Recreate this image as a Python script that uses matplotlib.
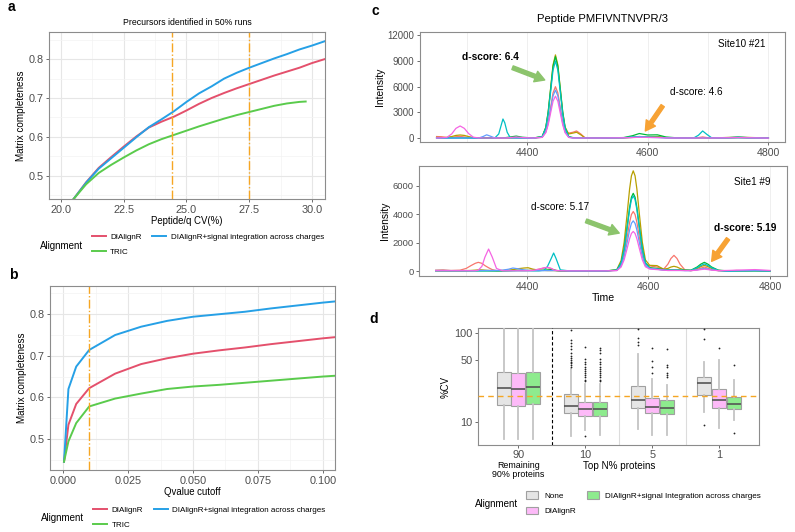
import matplotlib
matplotlib.use("Agg")
import matplotlib.pyplot as plt
from matplotlib.lines import Line2D
from matplotlib.patches import Patch
import matplotlib.transforms as mtransforms

plt.rcParams['font.family'] = ['Liberation Sans', 'DejaVu Sans']

# ---------- data ----------

# a: matrix completeness vs peptide/q CV
cv_x = [20.5, 21.0, 21.5, 22.0, 22.5, 23.0, 23.5, 24.0, 24.5, 25.0, 25.5,
        26.0, 26.5, 27.0, 27.5, 28.0, 28.5, 29.0, 29.5, 30.0, 30.5]
cv_dialignr = [0.44, 0.483, 0.52, 0.548, 0.575, 0.601, 0.624, 0.639, 0.652, 0.668, 0.685,
               0.70, 0.713, 0.725, 0.736, 0.747, 0.758, 0.768, 0.778, 0.79, 0.80]
cv_signal = [0.44, 0.482, 0.518, 0.545, 0.572, 0.599, 0.625, 0.645, 0.666, 0.69, 0.712,
             0.73, 0.75, 0.765, 0.778, 0.79, 0.802, 0.813, 0.825, 0.835, 0.846]
cv_x_tric = [20.5, 21.0, 21.5, 22.0, 22.5, 23.0, 23.5, 24.0, 24.5, 25.0, 25.5,
             26.0, 26.5, 27.0, 27.5, 28.0, 28.5, 29.0, 29.5, 29.75]
cv_tric = [0.44, 0.478, 0.507, 0.528, 0.547, 0.565, 0.581, 0.594, 0.605, 0.616, 0.627,
           0.637, 0.647, 0.656, 0.664, 0.672, 0.68, 0.686, 0.69, 0.691]
cv_marks = [24.44, 27.49]

# b: matrix completeness vs q-value cutoff
q_x = [0.0003, 0.002, 0.005, 0.01, 0.02, 0.03, 0.04, 0.05, 0.06, 0.07, 0.08, 0.09, 0.1, 0.105]
q_dialignr = [0.445, 0.534, 0.584, 0.622, 0.657, 0.68, 0.694, 0.705, 0.713, 0.72, 0.728, 0.735, 0.742, 0.745]
q_signal = [0.445, 0.62, 0.674, 0.714, 0.75, 0.77, 0.784, 0.794, 0.80, 0.806, 0.814, 0.821, 0.828, 0.831]
q_tric = [0.445, 0.494, 0.538, 0.578, 0.597, 0.609, 0.62, 0.626, 0.63, 0.635, 0.64, 0.645, 0.65, 0.652]
q_mark = 0.01

# c: chromatograms (6 transitions), top = Site10 #21, bottom = Site1 #9
trace_colors = ['#F8766D', '#B79F00', '#00BA38', '#00BFC4', '#619CFF', '#F564E3']

top_time = [4250, 4258, 4267, 4275, 4282, 4289, 4296, 4303, 4311,
            4320, 4327, 4333, 4339, 4346,
            4353, 4357, 4360, 4363, 4367, 4372,
            4382, 4392, 4410,
            4425, 4431, 4435, 4439, 4443, 4447, 4451, 4455, 4459, 4463, 4469,
            4476, 4482, 4489, 4496,
            4520, 4560, 4575, 4586, 4600, 4616, 4630, 4650,
            4676, 4684, 4691, 4698, 4706,
            4735, 4750, 4765, 4800]
top_red = [200, 180, 80, 100, 180, 220, 150, 80, 30,
           20, 30, 40, 30, 20,
           20, 20, 20, 20, 20, 30,
           40, 30, 20,
           120, 780, 1920, 3600, 5280, 6000, 5280, 3600, 1920, 800, 600,
           700, 850, 500, 50,
           30, 60, 120, 200, 150, 200, 80, 30,
           30, 80, 150, 80, 30,
           60, 100, 60, 20]
top_yellow = [100, 80, 100, 200, 330, 380, 330, 200, 80,
              30, 40, 60, 40, 30,
              30, 30, 30, 30, 30, 40,
              60, 40, 20,
              190, 1260, 3100, 5820, 8540, 9700, 8540, 5820, 3100, 1300, 500,
              600, 700, 400, 50,
              30, 50, 100, 180, 150, 200, 80, 30,
              30, 50, 80, 50, 30,
              100, 150, 100, 30]
top_green = [30, 30, 30, 30, 40, 50, 40, 30, 30,
             30, 30, 30, 30, 30,
             30, 30, 40, 60, 100, 150,
             250, 120, 30,
             190, 1240, 3040, 5700, 8360, 9500, 8360, 5700, 3040, 1240, 190,
             80, 60, 40, 30,
             30, 80, 300, 550, 380, 400, 150, 40,
             30, 30, 40, 30, 30,
             40, 60, 40, 20]
top_cyan = [20, 20, 20, 20, 20, 20, 20, 20, 20,
            20, 20, 20, 20, 0,
            500, 1500, 2240, 1800, 700, 80,
            40, 20, 20,
            180, 1170, 2880, 5400, 7920, 9000, 7920, 5400, 2880, 1170, 180,
            40, 40, 30, 30,
            20, 60, 150, 200, 150, 120, 60, 20,
            30, 350, 850, 450, 50,
            80, 150, 80, 20]
top_blue = [30, 30, 30, 30, 30, 30, 30, 30, 30,
            30, 200, 400, 250, 50,
            30, 30, 30, 30, 30, 30,
            30, 30, 20,
            110, 730, 1790, 3360, 4930, 5600, 4930, 3360, 1790, 730, 110,
            30, 30, 30, 30,
            30, 60, 100, 150, 100, 80, 40, 30,
            30, 30, 40, 30, 30,
            40, 60, 40, 20]
top_magenta = [30, 50, 100, 500, 1150, 1430, 1150, 550, 120,
               40, 30, 30, 30, 30,
               30, 30, 30, 30, 40, 80,
               150, 80, 30,
               100, 640, 1570, 2940, 4310, 4900, 4310, 2940, 1570, 640, 100,
               30, 30, 30, 30,
               30, 50, 80, 120, 100, 80, 40, 30,
               30, 30, 40, 30, 30,
               60, 80, 60, 20]

bot_time = [4250, 4262, 4275, 4290, 4300,
            4308, 4315, 4320, 4326, 4331, 4337, 4343, 4350,
            4360, 4370, 4377, 4385, 4395, 4402, 4410,
            4420, 4428, 4434, 4440, 4444, 4448, 4455,
            4470, 4500, 4530,
            4548, 4555, 4560, 4565, 4569, 4572, 4575, 4578, 4581, 4585, 4590, 4595, 4602,
            4614,
            4625, 4632, 4637, 4642, 4647, 4652, 4660,
            4670, 4680, 4686, 4692, 4698, 4704, 4715,
            4730, 4745, 4760, 4775, 4785, 4800]
bot_red = [80, 100, 60, 80, 200,
           400, 560, 630, 560, 400, 250, 120, 50,
           40, 50, 60, 60, 50, 60, 80,
           150, 220, 250, 200, 120, 60, 30,
           20, 20, 20,
           70, 450, 1200, 2410, 3440, 3990, 4200, 3990, 3440, 2410, 1200, 500, 380,
           300,
           150, 500, 900, 1120, 900, 500, 100,
           40, 120, 220, 300, 220, 120, 40,
           30, 60, 40, 60, 40, 30]
bot_yellow = [50, 50, 40, 40, 50,
              60, 80, 100, 100, 80, 60, 50, 40,
              60, 80, 120, 180, 230, 250, 150,
              80, 60, 50, 50, 50, 40, 30,
              20, 20, 20,
              120, 760, 2030, 4050, 5780, 6710, 7060, 6710, 5780, 4050, 2030, 800, 420,
              400,
              150, 200, 300, 350, 300, 200, 80,
              60, 200, 330, 420, 330, 200, 60,
              30, 30, 40, 50, 40, 30]
bot_green = [30, 30, 30, 30, 30,
             30, 30, 30, 30, 30, 30, 30, 30,
             30, 40, 50, 60, 60, 60, 50,
             50, 80, 100, 120, 100, 60, 30,
             20, 20, 20,
             90, 590, 1570, 3150, 4490, 5210, 5480, 5210, 4490, 3150, 1570, 600, 260,
             200,
             120, 100, 100, 100, 100, 100, 80,
             80, 300, 500, 630, 500, 300, 80,
             30, 30, 30, 30, 30, 20]
bot_cyan = [40, 40, 40, 40, 40,
            40, 40, 40, 40, 40, 40, 40, 40,
            40, 40, 40, 40, 40, 40, 40,
            40, 60, 350, 900, 1285, 900, 100,
            30, 30, 30,
            90, 570, 1520, 3040, 4340, 5040, 5300, 5040, 4340, 3040, 1520, 580, 210,
            150,
            100, 80, 80, 80, 80, 80, 60,
            60, 250, 400, 520, 400, 250, 60,
            0, 20, 30, 40, 30, 20]
bot_blue = [60, 60, 50, 50, 50,
            50, 50, 50, 60, 60, 60, 60, 60,
            80, 150, 230, 180, 100, 60, 50,
            50, 50, 50, 50, 50, 50, 40,
            30, 30, 30,
            60, 380, 1020, 2030, 2900, 3370, 3545, 3370, 2900, 2030, 1020, 400, 200,
            150,
            80, 60, 60, 60, 60, 60, 50,
            50, 100, 160, 200, 160, 100, 50,
            40, 50, 50, 60, 50, 40]
bot_magenta = [40, 40, 40, 40, 40,
               40, 40, 80, 350, 1000, 1565, 1000, 200,
               40, 40, 40, 40, 40, 40, 60,
               150, 250, 280, 200, 100, 60, 40,
               30, 30, 30,
               50, 300, 800, 1610, 2290, 2660, 2800, 2660, 2290, 1610, 800, 320, 160,
               120,
               80, 60, 60, 60, 60, 60, 50,
               50, 80, 120, 150, 120, 80, 50,
               60, 80, 100, 120, 100, 60]

# d: %CV boxplots
cv_groups = ['90', '10', '5', '1']
box_labels = ['None', 'DIAlignR', 'DIAlignR+signal Integration across charges']
box_colors = ['#E5E5E5', '#FDBAF8', '#8EEB8E']
none_q1 = [15.6, 12.6, 14.4, 20.1]
none_med = [24.3, 15.1, 17.8, 27.4]
none_q3 = [36.5, 20.7, 25.4, 32.5]
none_lo = [6.5, 7.1, 8.4, 13.2]
none_hi = [150, 40, 58, 48]
none_out = [[], [110, 84, 78, 72, 66, 60, 56, 53, 50, 48, 46, 44, 42], [113, 88, 80, 74], [113, 86, 9.3]]
dia_q1 = [15.4, 11.9, 12.6, 14.4]
dia_med = [23.9, 14.1, 15.0, 17.7]
dia_q3 = [35.6, 16.9, 18.7, 23.7]
dia_lo = [6.5, 8.2, 7.2, 8.6]
dia_hi = [150, 27, 31, 50]
dia_out = [[], [70, 52, 48, 45, 42, 40, 38, 36, 34, 32, 30, 29, 7.0], [69, 49, 42, 36], [69]]
sig_q1 = [16.1, 11.8, 12.3, 14.0]
sig_med = [24.7, 14.1, 14.5, 16.2]
sig_q3 = [37.1, 16.9, 17.8, 19.1]
sig_lo = [6.5, 7.2, 7.2, 10.6]
sig_hi = [150, 27, 26, 30]
sig_out = [[], [68, 65, 60, 52, 48, 45, 42, 40, 38, 36, 34, 32, 30, 29], [67, 44, 42, 36, 34, 32], [44, 7.5]]
cv_threshold = 20

# ---------- figure ----------
W, H = 795, 532
fig = plt.figure(figsize=(W / 100, H / 100), dpi=100)

RED = '#E4506C'
BLUE = '#26A0E6'
GREEN = '#5ACB4C'
ORANGE = '#F6A623'
TICKC = '#4D4D4D'
BORDER = '#8C8C8C'


def px_axes(x0, y0, x1, y1):
    return fig.add_axes([x0 / W, 1 - y1 / H, (x1 - x0) / W, (y1 - y0) / H])


def ftext(x, y, s, **kw):
    fig.text(x / W, 1 - y / H, s, **kw)


def style(ax, size=7.8):
    for sp in ax.spines.values():
        sp.set_color(BORDER)
        sp.set_linewidth(0.8)
    ax.tick_params(length=2.5, width=0.6, color='#555555', labelcolor=TICKC,
                   labelsize=size, pad=1.5)


def completeness_grid(ax, xmajor, ymajor):
    ax.set_xticks(xmajor)
    ax.set_yticks(ymajor)
    step = xmajor[1] - xmajor[0]
    ax.set_xticks([v + step / 2 for v in [xmajor[0] - step] + list(xmajor)], minor=True)
    ax.set_yticks([v + 0.05 for v in [ymajor[0] - 0.1] + list(ymajor)], minor=True)
    ax.tick_params(which='minor', length=0)
    ax.grid(which='major', color='#E6E6E6', lw=0.8)
    ax.grid(which='minor', color='#F3F3F3', lw=0.5)
    ax.set_axisbelow(True)


# ----- panel a
ax_a = px_axes(49, 32, 325, 199)
style(ax_a)
completeness_grid(ax_a, [20.0, 22.5, 25.0, 27.5, 30.0], [0.5, 0.6, 0.7, 0.8])
ax_a.set_xticklabels(['20.0', '22.5', '25.0', '27.5', '30.0'])
ax_a.plot(cv_x, cv_dialignr, color=RED, lw=1.4)
ax_a.plot(cv_x, cv_signal, color=BLUE, lw=1.4)
ax_a.plot(cv_x_tric, cv_tric, color=GREEN, lw=1.4)
for m in cv_marks:
    ax_a.axvline(m, color=ORANGE, lw=1.0, ls='-.')
ax_a.set_xlim(19.52, 30.52)
ax_a.set_ylim(0.44, 0.87)
ax_a.set_title('Precursors identified in 50% runs', fontsize=6.3, pad=5)
ax_a.set_xlabel('Peptide/q CV(%)', fontsize=6.9, labelpad=1)
ax_a.set_ylabel('Matrix completeness', fontsize=7.1, labelpad=2)

# ----- panel b
ax_b = px_axes(50, 286, 335, 470)
style(ax_b)
completeness_grid(ax_b, [0.0, 0.025, 0.05, 0.075, 0.1], [0.5, 0.6, 0.7, 0.8])
ax_b.set_xticklabels(['0.000', '0.025', '0.050', '0.075', '0.100'])
ax_b.plot(q_x, q_dialignr, color=RED, lw=1.4)
ax_b.plot(q_x, q_signal, color=BLUE, lw=1.4)
ax_b.plot(q_x, q_tric, color=GREEN, lw=1.4)
ax_b.axvline(q_mark, color=ORANGE, lw=1.0, ls='-.')
ax_b.set_xlim(-0.0051, 0.1047)
ax_b.set_ylim(0.425, 0.868)
ax_b.set_xlabel('Qvalue cutoff', fontsize=6.9, labelpad=1)
ax_b.set_ylabel('Matrix completeness', fontsize=7.1, labelpad=2)

# legends a and b
line_handles = [Line2D([], [], color=RED, lw=1.4), Line2D([], [], color=GREEN, lw=1.4),
                Line2D([], [], color=BLUE, lw=1.4)]
line_labels = ['DIAlignR', 'TRIC', 'DIAlignR+signal integration across charges']
for lx, ly, tx, ty in [(91.7, 244.8, 40, 245.7), (93.3, 517.5, 40.7, 518.3)]:
    fig.legend(line_handles, line_labels, loc='center left',
               bbox_to_anchor=(lx / W, 1 - ly / H), ncol=2, frameon=False,
               fontsize=5.8, handlelength=1.75, handletextpad=0.55,
               columnspacing=1.3, labelspacing=0.95, borderpad=0, borderaxespad=0)
    ftext(tx, ty, 'Alignment', fontsize=7.0, va='center', ha='left')

# ----- panel c
def chrom_axes(ax, times, traces, ylim, yticks, ysize):
    style(ax)
    for vals, col in zip(traces, trace_colors):
        ax.plot(times, vals, color=col, lw=0.9, solid_joinstyle='round')
    ax.set_xlim(4222.5, 4827.5)
    ax.set_ylim(*ylim)
    ax.set_xticks([4400, 4600, 4800])
    ax.set_xticks([4300, 4500, 4700], minor=True)
    ax.set_yticks(yticks)
    ax.tick_params(which='minor', length=0)
    ax.tick_params(axis='x', labelsize=7.6)
    ax.tick_params(axis='y', labelsize=ysize)
    ax.grid(axis='x', which='both', color='#EDEDED', lw=0.6)
    ax.set_axisbelow(True)
    ax.set_ylabel('Intensity', fontsize=7.4, labelpad=2)


def arrow(ax, tail, tip, color):
    ax.annotate('', xy=tip, xytext=tail,
                arrowprops=dict(arrowstyle='simple,head_length=0.7,head_width=0.8,tail_width=0.28',
                                color=color, shrinkA=0, shrinkB=0, mutation_scale=10))


ax_c1 = px_axes(420, 31.7, 785, 142.3)
chrom_axes(ax_c1, top_time,
           [top_red, top_yellow, top_green, top_cyan, top_blue, top_magenta],
           (-470, 12400), [0, 3000, 6000, 9000, 12000], 6.9)
ax_c1.set_title('Peptide PMFIVNTNVPR/3', fontsize=8.1, pad=7)
ax_c1.text(4291.6, 9490, 'd-score: 6.4', fontsize=7.3, fontweight='bold', va='center')
ax_c1.text(4637, 5420, 'd-score: 4.6', fontsize=7.2, va='center')
ax_c1.text(4795.7, 10932, 'Site10 #21', fontsize=7.1, va='center', ha='right')
arrow(ax_c1, (4375.9, 8211), (4429.3, 6780), '#8CC46C')
arrow(ax_c1, (4624.8, 3791), (4596, 849), '#F7A234')

ax_c2 = px_axes(419, 166, 786.7, 276)
chrom_axes(ax_c2, bot_time,
           [bot_red, bot_yellow, bot_green, bot_cyan, bot_blue, bot_magenta],
           (-330, 7400), [0, 2000, 4000, 6000], 6.8)
ax_c2.set_xlabel('Time', fontsize=7.6, labelpad=1)
ax_c2.text(4407, 4544, 'd-score: 5.17', fontsize=7.2, va='center')
ax_c2.text(4707.7, 3034, 'd-score: 5.19', fontsize=7.3, fontweight='bold', va='center')
ax_c2.text(4800.6, 6291, 'Site1 #9', fontsize=7.1, va='center', ha='right')
arrow(ax_c2, (4497.4, 3544), (4552, 2684), '#8CC46C')
arrow(ax_c2, (4731, 2286), (4704, 699), '#F7A234')

# ----- panel d
ax_d = px_axes(478.3, 328.3, 759.3, 445)
style(ax_d, 7.9)
ax_d.tick_params(axis='x', pad=1)
ax_d.set_yscale('log')
series = [
    (none_q1, none_med, none_q3, none_lo, none_hi, none_out),
    (dia_q1, dia_med, dia_q3, dia_lo, dia_hi, dia_out),
    (sig_q1, sig_med, sig_q3, sig_lo, sig_hi, sig_out),
]
offsets = [-0.22, 0.0, 0.22]
for (q1, med, q3, lo, hi, out), off, col in zip(series, offsets, box_colors):
    stats = [dict(q1=q1[i], med=med[i], q3=q3[i], whislo=lo[i], whishi=hi[i],
                  fliers=out[i]) for i in range(len(cv_groups))]
    pos = [i + 1 + off for i in range(len(cv_groups))]
    ax_d.bxp(stats, positions=pos, widths=0.21, patch_artist=True, showcaps=False,
             boxprops=dict(facecolor=col, edgecolor='#A0A0A0', lw=0.8),
             whiskerprops=dict(color='#C4C4C4', lw=1.3),
             medianprops=dict(color='#555555', lw=1.2),
             flierprops=dict(marker='o', markersize=1.3, markerfacecolor='#222222',
                             markeredgecolor='none'),
             manage_ticks=False, zorder=3)
ax_d.axvline(1.5, color='black', lw=0.8, ls=(0, (3, 2)), zorder=4)
ax_d.axvline(2.5, color='#DCDCDC', lw=0.8, zorder=1)
ax_d.axvline(3.5, color='#DCDCDC', lw=0.8, zorder=1)
ax_d.axhline(cv_threshold, color='#F5A623', lw=1.0, ls=(0, (4, 3)), zorder=5)
ax_d.set_xlim(0.4, 4.6)
ax_d.set_ylim(5.56, 113.8)
ax_d.set_xticks(range(1, len(cv_groups) + 1))
ax_d.set_xticklabels(cv_groups)
ax_d.set_yticks([10, 50, 100])
ax_d.set_yticklabels(['10', '50', '100'])
ax_d.minorticks_off()
ax_d.set_ylabel('%CV', fontsize=6.9, labelpad=3)
ax_d.set_xlabel('Top N% proteins', fontsize=7.1, labelpad=1)
trans = mtransforms.blended_transform_factory(ax_d.transData, ax_d.transAxes)
ax_d.text(1, -0.135, 'Remaining\n90% proteins', transform=trans, ha='center', va='top',
          fontsize=6.4, linespacing=1.05)

patch_handles = [Patch(facecolor=c, edgecolor='#A0A0A0', lw=0.8) for c in box_colors]
fig.legend(patch_handles, box_labels, loc='center left',
           bbox_to_anchor=(526 / W, 1 - 503.3 / H), ncol=2, frameon=False,
           fontsize=5.9, handlelength=1.45, handleheight=1.05, handletextpad=0.8,
           columnspacing=1.3, labelspacing=0.85, borderpad=0, borderaxespad=0)
ftext(475, 504, 'Alignment', fontsize=7.0, va='center', ha='left')

# panel letters
for x, y, s in [(11, 7.3, 'a'), (13.3, 275, 'b'), (375, 10.7, 'c'), (373.3, 319.3, 'd')]:
    ftext(x, y, s, fontsize=10, fontweight='bold', ha='center', va='center')

fig.savefig('out.png', dpi=100)
